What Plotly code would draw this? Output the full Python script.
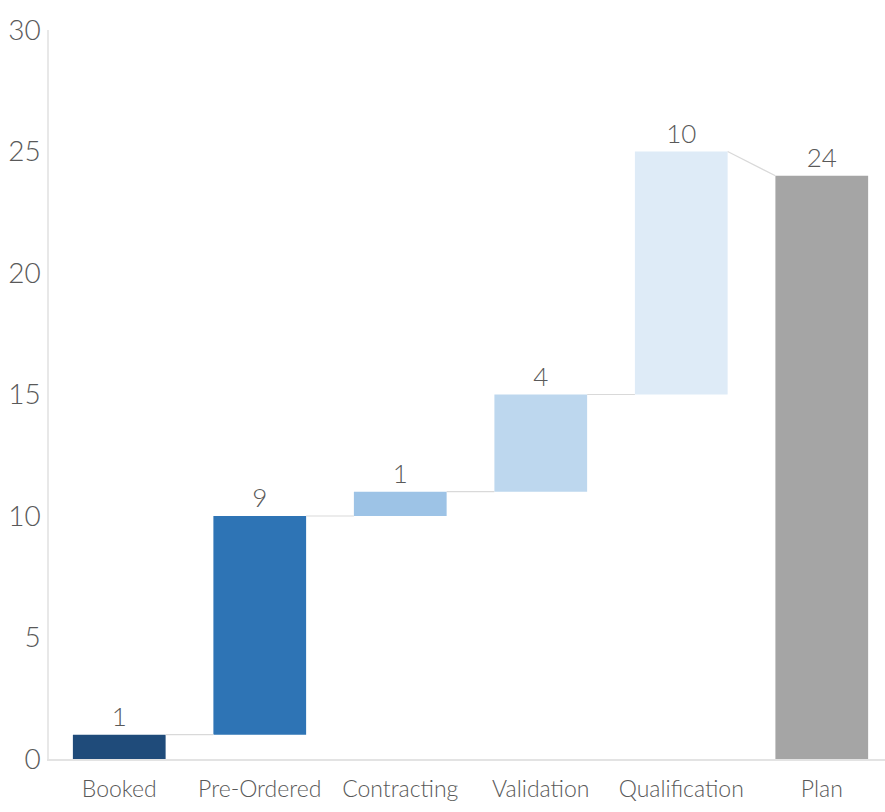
import plotly.graph_objects as go

categories = ["Booked", "Pre-Ordered", "Contracting", "Validation", "Qualification", "Plan"]
values = [1, 9, 1, 4, 10, 24]
is_total = [False, False, False, False, False, True]
colors = ["#1f4b7a", "#2e74b5", "#9dc3e6", "#bdd7ee", "#deebf7", "#a5a5a5"]
y_ticks = [0, 5, 10, 15, 20, 25, 30]

# compute bases / tops
bases, tops = [], []
running = 0
for v, t in zip(values, is_total):
    if t:
        bases.append(0)
        tops.append(v)
    else:
        bases.append(running)
        running += v
        tops.append(running)

xs = list(range(len(categories)))
bar_w = 0.66
font_family = "Lato, sans-serif"
txt_color = "#595959"

fig = go.Figure()

# connectors
for i in range(len(categories) - 1):
    y0 = tops[i]
    y1 = tops[i + 1] if is_total[i + 1] else bases[i + 1]
    fig.add_trace(go.Scatter(
        x=[xs[i] + bar_w / 2, xs[i + 1] - bar_w / 2], y=[y0, y1],
        mode="lines", line=dict(color="#d9d9d9", width=1.2),
        hoverinfo="skip", showlegend=False))

fig.add_trace(go.Bar(
    x=xs, y=values, base=bases, width=bar_w,
    marker=dict(color=colors, line=dict(width=0)),
    text=[str(v) for v in values], textposition="outside",
    textfont=dict(family=font_family, size=26, color=txt_color, weight=300),
    cliponaxis=False, showlegend=False))

fig.update_layout(
    width=885, height=812,
    margin=dict(l=49, r=0, t=30, b=53, autoexpand=False),
    plot_bgcolor="white", paper_bgcolor="white",
    font=dict(family=font_family, size=23, color=txt_color, weight=300),
    xaxis=dict(range=[-0.5, 5.45], tickmode="array", tickvals=xs, ticktext=categories,
               showgrid=False, zeroline=False, showline=True, linecolor="#e3e3e3",
               linewidth=1.5, ticks="", tickangle=0, automargin=False,
               ticklabelstandoff=9,
               tickfont=dict(family=font_family, size=23, color=txt_color, weight=300)),
    yaxis=dict(range=[0, 30], tickmode="array", tickvals=y_ticks,
               showgrid=False, zeroline=False, showline=True, linecolor="#e8e8e8",
               linewidth=1.5, ticks="", ticklabelstandoff=1, automargin=False,
               tickfont=dict(family=font_family, size=28, color=txt_color, weight=300)),
)

fig.write_html("out.html")
